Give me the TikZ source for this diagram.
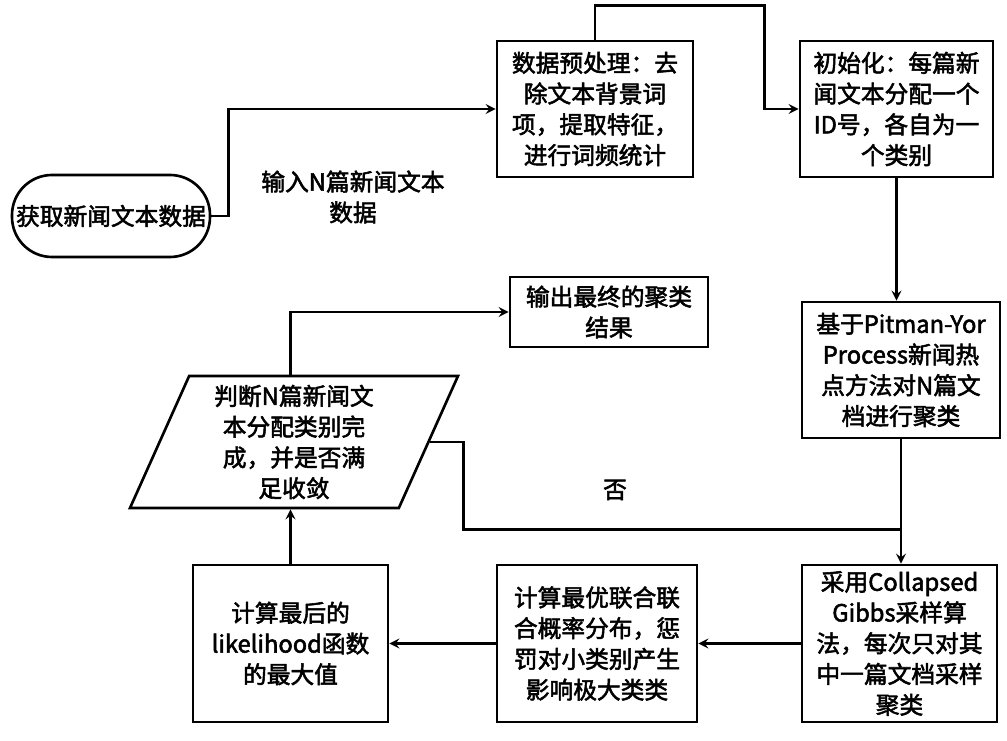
\documentclass[tikz,border=0pt]{standalone}
\usepackage{fontspec}
\newfontfamily\cjk[FakeBold=2.2]{Noto Sans CJK SC}
\usetikzlibrary{shapes.geometric}
\tikzset{>=stealth}
\tikzset{
    box/.style={draw, line width=1.5pt, align=center, inner sep=2pt,
        font=\cjk\fontsize{13.5}{17.5}\selectfont},
    line/.style={line width=1.5pt},
    arr/.style={line width=1.5pt, ->, shorten >=0pt}
}

\begin{document}
\begin{tikzpicture}
    \useasboundingbox[fill=white] (0,0) rectangle (20.14,-14.82);
    \node[box, rounded corners=0.8cm, minimum width=3.96cm, minimum height=1.64cm] (start) at (2.22,-4.32) {获取新闻文本数据};
    \node[box, minimum width=3.92cm, minimum height=2.72cm] (prep) at (11.9,-2.18) {数据预处理：去\\除文本背景词\\项，提取特征，\\进行词频统计};
    \node[box, minimum width=3.86cm, minimum height=2.72cm] (init) at (17.93,-2.18) {初始化：每篇新\\闻文本分配一个\\ID号，各自为一\\个类别};
    \node[box, minimum width=3.96cm, minimum height=2.72cm] (py) at (18.02,-7.4) {基于Pitman-Yor\\Process新闻热\\点方法对N篇文\\档进行聚类};
    \node[box, minimum width=3.9cm, minimum height=3.14cm] (gibbs) at (17.99,-12.87) {采用Collapsed\\Gibbs采样算\\法，每次只对其\\中一篇文档采样\\聚类};
    \node[box, minimum width=4.0cm, minimum height=3.14cm] (joint) at (11.94,-12.87) {计算最优联合联\\合概率分布，惩\\罚对小类别产生\\影响极大类类};
    \node[box, minimum width=3.9cm, minimum height=3.14cm] (lik) at (5.81,-12.87) {计算最后的\\likelihood函数\\的最大值};
    \node[box, trapezium, trapezium left angle=64, trapezium right angle=116, trapezium stretches body,
        minimum width=6.56cm, minimum height=2.64cm] (judge) at (5.88,-8.84) {判断N篇新闻文\\本分配类别完\\成，并是否满\\足收敛};
    \node[box, minimum width=3.96cm, minimum height=1.4cm] (out) at (12.18,-6.24) {输出最终的聚类\\结果};
    \node[box, draw=none] (inlabel) at (7.06,-3.94) {输入N篇新闻文本\\数据};
    \node[box, draw=none] (no) at (12.3,-9.8) {否};
    \path (py.south) ++(0,-1.8) coordinate (merge);

    \draw[arr] (start.east) -- ++(0.34,0) |- (prep.west);
    \draw[arr] (prep.north) -- ++(0,0.68) -| ([xshift=-0.68cm]init.west) -- (init.west);
    \draw[arr] (init.south) -- (init.south |- py.north);
    \draw[arr] (py.south) -- (py.south |- gibbs.north);
    \draw[line] (judge.east) -- ++(0.67,0) |- (merge);
    \draw[arr] (gibbs.west) -- (joint.east);
    \draw[arr] (joint.west) -- (lik.east);
    \draw[arr] (lik.north) -- (lik.north |- judge.south);
    \draw[arr] (lik.north |- judge.north) |- (out.west);
\end{tikzpicture}
\end{document}
